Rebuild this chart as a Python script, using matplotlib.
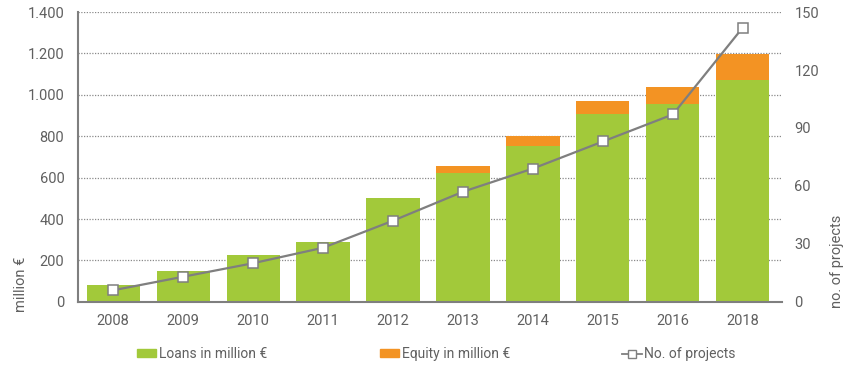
import matplotlib
matplotlib.use("Agg")
import matplotlib.pyplot as plt
from matplotlib.ticker import FuncFormatter
from matplotlib.patches import Patch
from matplotlib.lines import Line2D
import numpy as np

plt.rcParams['font.family'] = ['Roboto', 'DejaVu Sans']

years = ['2008', '2009', '2010', '2011', '2012', '2013', '2014', '2015', '2016', '2018']
loans = [80, 148, 228, 290, 500, 622, 755, 907, 955, 1070]
equity = [0, 0, 0, 0, 0, 33, 45, 65, 82, 127]
projects = [6, 13, 20, 28, 42, 57, 69, 83, 97, 142]

green = '#a2c93a'
orange = '#f39323'
grey = '#7f7f7f'
txt = '#606060'

fig = plt.figure(figsize=(8.5, 3.65), dpi=100)
ax = fig.add_axes([0.092, 0.173, 0.828, 0.794])
x = np.arange(len(years))

ax.bar(x, loans, width=0.76, color=green, zorder=2)
ax.bar(x, equity, width=0.76, bottom=loans, color=orange, zorder=2)

ax.set_xlim(-0.5, 9.56)
ax.set_ylim(0, 1400)
ax.set_yticks(range(0, 1401, 200))
ax.yaxis.set_major_formatter(FuncFormatter(lambda v, p: f'{int(v):,}'.replace(',', '.')))
ax.set_xticks(x)
ax.set_xticklabels(years)
ax.tick_params(length=0, labelsize=10.5, colors=txt)
ax.tick_params(axis='x', pad=9)
ax.tick_params(axis='y', pad=10)
ax.yaxis.grid(True, linestyle=(0, (1, 1.2)), color='#8a8a8a', linewidth=0.9, zorder=0)
ax.set_axisbelow(True)
for s in ['top', 'right']:
    ax.spines[s].set_visible(False)
for s in ['left', 'bottom']:
    ax.spines[s].set_color(grey)
    ax.spines[s].set_linewidth(1.5)
ax.set_ylabel('million €', fontsize=10.5, color=txt)
ax.yaxis.set_label_coords(-0.071, 0.062)

ax2 = ax.twinx()
ax2.plot(x, projects, color=grey, linewidth=1.6, marker='s', markersize=7,
         markerfacecolor='white', markeredgecolor=grey, markeredgewidth=1.1, zorder=3)
ax2.set_ylim(0, 150)
ax2.set_yticks(range(0, 151, 30))
ax2.tick_params(length=0, labelsize=10.5, colors=txt, pad=9)
for s in ['top', 'right', 'left', 'bottom']:
    ax2.spines[s].set_visible(False)
ax2.set_ylabel('no. of projects', fontsize=10.5, color=txt)
ax2.yaxis.set_label_coords(1.068, 0.141)

legend_items = [
    (Patch(color=green), 'Loans in million €', 0.161),
    (Patch(color=orange), 'Equity in million €', 0.447),
    (Line2D([], [], color=grey, linewidth=1.3, marker='s', markersize=6,
            markerfacecolor='white', markeredgecolor=grey), 'No. of projects', 0.732),
]
for h, lab, xpos in legend_items:
    fig.legend([h], [lab], loc='center left', bbox_to_anchor=(xpos, 0.030), frameon=False,
               fontsize=10, labelcolor=txt, handlelength=1.4, handleheight=0.5,
               handletextpad=0.2, borderpad=0, borderaxespad=0)

fig.savefig('out.png', dpi=100)
